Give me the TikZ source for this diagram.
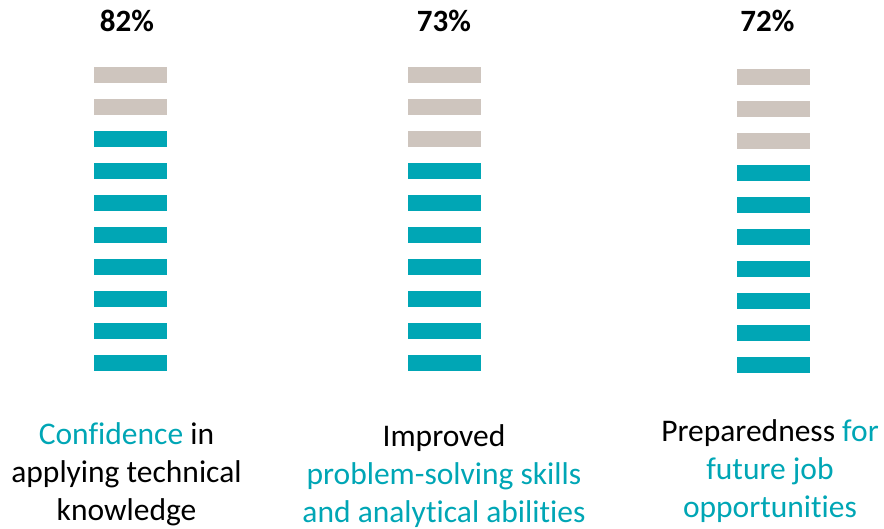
\documentclass[tikz,border=0pt]{standalone}
\usepackage{fontspec}
\setmainfont{Carlito}[Ligatures=NoCommon]
\definecolor{barteal}{HTML}{00A6B5}
\definecolor{barbeige}{HTML}{CEC5BE}
\tikzset{
    pct/.style={anchor=base,font=\fontsize{31}{37}\selectfont\bfseries},
    caption/.style={anchor=base,align=center,font=\fontsize{31.5}{37.8}\selectfont}
}
\begin{document}
\begin{tikzpicture}[x=1pt,y=-1pt]
    \useasboundingbox (0,0) rectangle (884,529);
    % ten bars per column, beige ones on top
    \foreach \cx/\top/\ngrey in {130.5/67/2, 444.5/67.5/3, 773.5/69/3}{
        \foreach \i in {0,...,9}{
            \pgfmathsetmacro\yy{\top+32*\i}
            \ifnum\i<\ngrey
                \fill[barbeige] ({\cx-36.5},\yy) rectangle ({\cx+36.5},{\yy+15.7});
            \else
                \fill[barteal] ({\cx-36.5},\yy) rectangle ({\cx+36.5},{\yy+15.7});
            \fi
        }
    }
    \node[pct] (pctA) at (127,32) {82\%};
    \node[pct] (pctB) at (444,32) {73\%};
    \node[pct] (pctC) at (767.5,32) {72\%};
    % captions, placed by the baseline of their last line
    \node[caption] (capA) at (126.5,520) {\textcolor{barteal}{Confidence} in\\applying technical\\knowledge};
    \node[caption] (capB) at (444,522.5) {Improved\\\textcolor{barteal}{problem-solving skills}\\\textcolor{barteal}{and analytical abilities}};
    \node[caption] (capC) at (770,517) {Preparedness \textcolor{barteal}{for}\\\textcolor{barteal}{future job}\\\textcolor{barteal}{opportunities}};
\end{tikzpicture}
\end{document}
